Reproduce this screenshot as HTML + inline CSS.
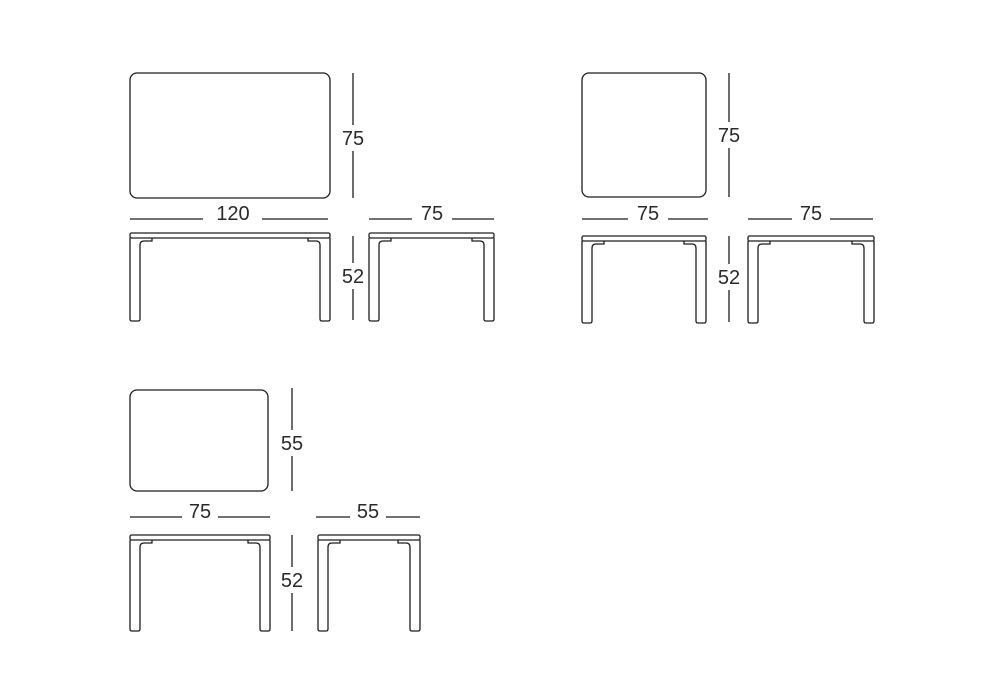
<!DOCTYPE html>
<html><head><meta charset="utf-8"><style>
html,body{margin:0;padding:0;background:#fff}
svg{display:block}
text{font-family:"Liberation Sans",sans-serif;font-size:20px;fill:#2a2a2a}
</style></head><body>
<svg width="1000" height="700" viewBox="0 0 1000 700" xmlns="http://www.w3.org/2000/svg">
<g fill="none" stroke="#1e1e1e" stroke-width="1.3">
<!-- top views -->
<rect x="130" y="73" width="200" height="125" rx="7"/>
<rect x="582" y="73" width="124" height="124" rx="7"/>
<rect x="130" y="390" width="138" height="101" rx="7"/>
<!-- side 1 -->
<rect x="130" y="233" width="200" height="5" rx="1.5"/>
<path d="M130,238 V319 q0,2 2,2 h6 q2,0 2,-2 V245 q0,-4 4,-4 h8 v-3"/>
<path d="M330,238 V319 q0,2 -2,2 h-6 q-2,0 -2,-2 V245 q0,-4 -4,-4 h-8 v-3"/>
<!-- side 2 -->
<rect x="369" y="233" width="125" height="5" rx="1.5"/>
<path d="M369,238 V319 q0,2 2,2 h6 q2,0 2,-2 V245 q0,-4 4,-4 h8 v-3"/>
<path d="M494,238 V319 q0,2 -2,2 h-6 q-2,0 -2,-2 V245 q0,-4 -4,-4 h-8 v-3"/>
<!-- side 3 -->
<rect x="582" y="236" width="124" height="5" rx="1.5"/>
<path d="M582,241 V321 q0,2 2,2 h6 q2,0 2,-2 V248 q0,-4 4,-4 h8 v-3"/>
<path d="M706,241 V321 q0,2 -2,2 h-6 q-2,0 -2,-2 V248 q0,-4 -4,-4 h-8 v-3"/>
<!-- side 4 -->
<rect x="748" y="236" width="126" height="5" rx="1.5"/>
<path d="M748,241 V321 q0,2 2,2 h6 q2,0 2,-2 V248 q0,-4 4,-4 h8 v-3"/>
<path d="M874,241 V321 q0,2 -2,2 h-6 q-2,0 -2,-2 V248 q0,-4 -4,-4 h-8 v-3"/>
<!-- side 5 -->
<rect x="130" y="535" width="140" height="5" rx="1.5"/>
<path d="M130,540 V629 q0,2 2,2 h6 q2,0 2,-2 V547 q0,-4 4,-4 h8 v-3"/>
<path d="M270,540 V629 q0,2 -2,2 h-6 q-2,0 -2,-2 V547 q0,-4 -4,-4 h-8 v-3"/>
<!-- side 6 -->
<rect x="318" y="535" width="102" height="5" rx="1.5"/>
<path d="M318,540 V629 q0,2 2,2 h6 q2,0 2,-2 V547 q0,-4 4,-4 h8 v-3"/>
<path d="M420,540 V629 q0,2 -2,2 h-6 q-2,0 -2,-2 V547 q0,-4 -4,-4 h-8 v-3"/>
<!-- vertical dims -->
<line x1="353" y1="73" x2="353" y2="125"/><line x1="353" y1="151" x2="353" y2="198"/>
<line x1="353" y1="236" x2="353" y2="263"/><line x1="353" y1="289" x2="353" y2="320"/>
<line x1="729" y1="73" x2="729" y2="122"/><line x1="729" y1="148" x2="729" y2="197"/>
<line x1="729" y1="236" x2="729" y2="264"/><line x1="729" y1="290" x2="729" y2="322"/>
<line x1="292" y1="388" x2="292" y2="430"/><line x1="292" y1="456" x2="292" y2="491"/>
<line x1="292" y1="535" x2="292" y2="567"/><line x1="292" y1="593" x2="292" y2="631"/>
<!-- horizontal dims -->
<line x1="130" y1="219" x2="203" y2="219"/><line x1="262" y1="219" x2="328" y2="219"/>
<line x1="369" y1="219" x2="412" y2="219"/><line x1="452" y1="219" x2="494" y2="219"/>
<line x1="582" y1="219" x2="628" y2="219"/><line x1="668" y1="219" x2="708" y2="219"/>
<line x1="748" y1="219" x2="792" y2="219"/><line x1="830" y1="219" x2="873" y2="219"/>
<line x1="130" y1="517" x2="182" y2="517"/><line x1="218" y1="517" x2="270" y2="517"/>
<line x1="316" y1="517" x2="350" y2="517"/><line x1="386" y1="517" x2="420" y2="517"/>
</g>
<g text-anchor="middle">
<text x="353" y="145">75</text>
<text x="353" y="283">52</text>
<text x="729" y="142">75</text>
<text x="729" y="284">52</text>
<text x="292" y="450">55</text>
<text x="292" y="587">52</text>
<text x="233" y="220">120</text>
<text x="432" y="220">75</text>
<text x="648" y="220">75</text>
<text x="811" y="220">75</text>
<text x="200" y="518">75</text>
<text x="368" y="518">55</text>
</g>
</svg>
</body></html>
